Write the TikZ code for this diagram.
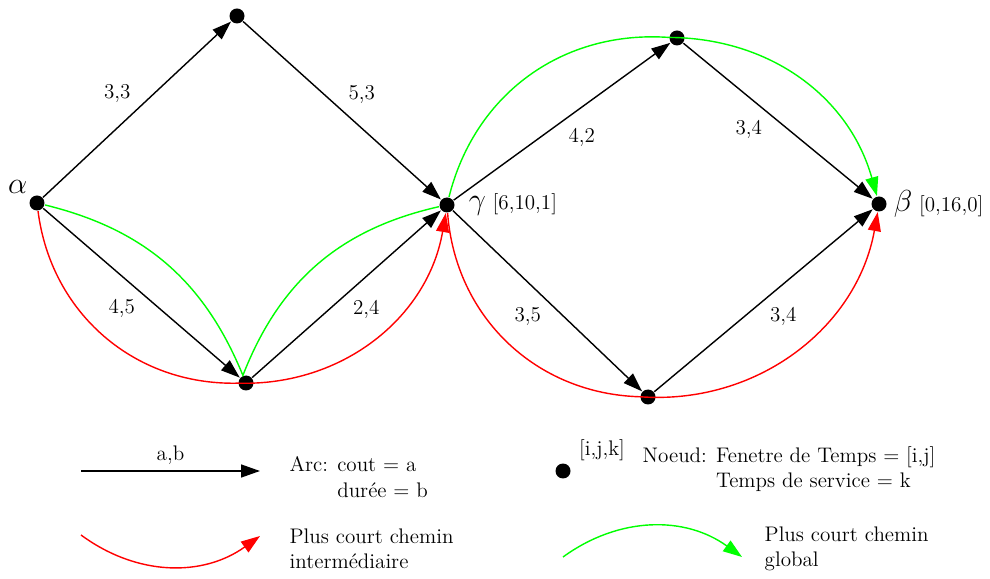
\documentclass[tikz,border=0pt]{standalone}
\usepackage{fontspec}
\usetikzlibrary{arrows.meta}
\newcommand\grk[1]{{\fontsize{17}{17}\selectfont$#1$}}
\begin{document}
\begin{tikzpicture} [
   x=0.02cm, y=0.02cm, auto, line width=0.8pt,
   font=\fontsize{12}{14.4}\selectfont,
   >={Triangle[length=0.38cm,width=0.26cm]},
   n/.style={circle,fill,inner sep=0pt,minimum size=0.3cm},
   txt/.style={anchor=west,align=left,inner sep=0pt}
]
   \useasboundingbox (0,0) rectangle (990,578);
   % graphe
   \node (A) [n, label={[label distance=-2pt]135:\grk{\alpha}}] at (37,375) {};
   \node (T1) [n] at (237,562) {};
   \node (L1) [n] at (246,195) {};
   \node (G) [n, label={[label distance=4pt]right:{\grk{\gamma} [6,10,1]}}] at (447,373) {};
   \node (T2) [n] at (677,540) {};
   \node (L2) [n] at (648,181) {};
   \node (B) [n, label={[label distance=0pt]right:{\grk{\beta} [0,16,0]}}] at (879,374) {};
   \path[->] (A) edge node {3,3} (T1)
                 edge node [swap] {4,5} (L1)
             (T1) edge node {5,3} (G)
             (L1) edge node [swap] {2,4} (G)
             (G) edge node [swap] {4,2} (T2)
                 edge node [swap] {3,5} (L2)
             (T2) edge node [swap, pos=0.45] {3,4} (B)
             (L2) edge node [swap] {3,4} (B);
   % chemins
   \draw[red,->] (A) to[bend right=42] (L1) to[bend right=41] (G);
   \draw[red,->] (G) to[bend right=42] (L2) to[bend right=42] (B);
   \draw[green] (A) to[bend left=27] (L1) to[bend left=28] (G);
   \draw[green,->] (G) to[bend left=40] (T2) to[bend left=37] (B);
   % legende
   \coordinate (a1) at (81,107);
   \coordinate (a2) at (260,107);
   \draw[->] (a1) -- node {a,b} (a2);
   \node (arc) [txt] at (289,101) {Arc: cout = a\\\phantom{Arc: }durée = b};
   \coordinate (r1) at (81,43);
   \coordinate (r2) at (260,42);
   \draw[red,->] (r1) to[bend right=36] (r2);
   \node (inter) [txt] at (289,29) {Plus court chemin\\intermédiaire};
   \node (K) [n] at (563,107) {};
   \node (ijk) at (602,128) {[i,j,k]};
   \node (noeud) [txt] at (642,109) {Noeud: Fenetre de Temps = [i,j]\\\phantom{Noeud: }Temps de service = k};
   \coordinate (v1) at (563,21);
   \coordinate (v2) at (742,21);
   \draw[green,->] (v1) to[bend left=36] (v2);
   \node (glob) [txt] at (764,29) {Plus court chemin\\global};
\end{tikzpicture}
\end{document}
